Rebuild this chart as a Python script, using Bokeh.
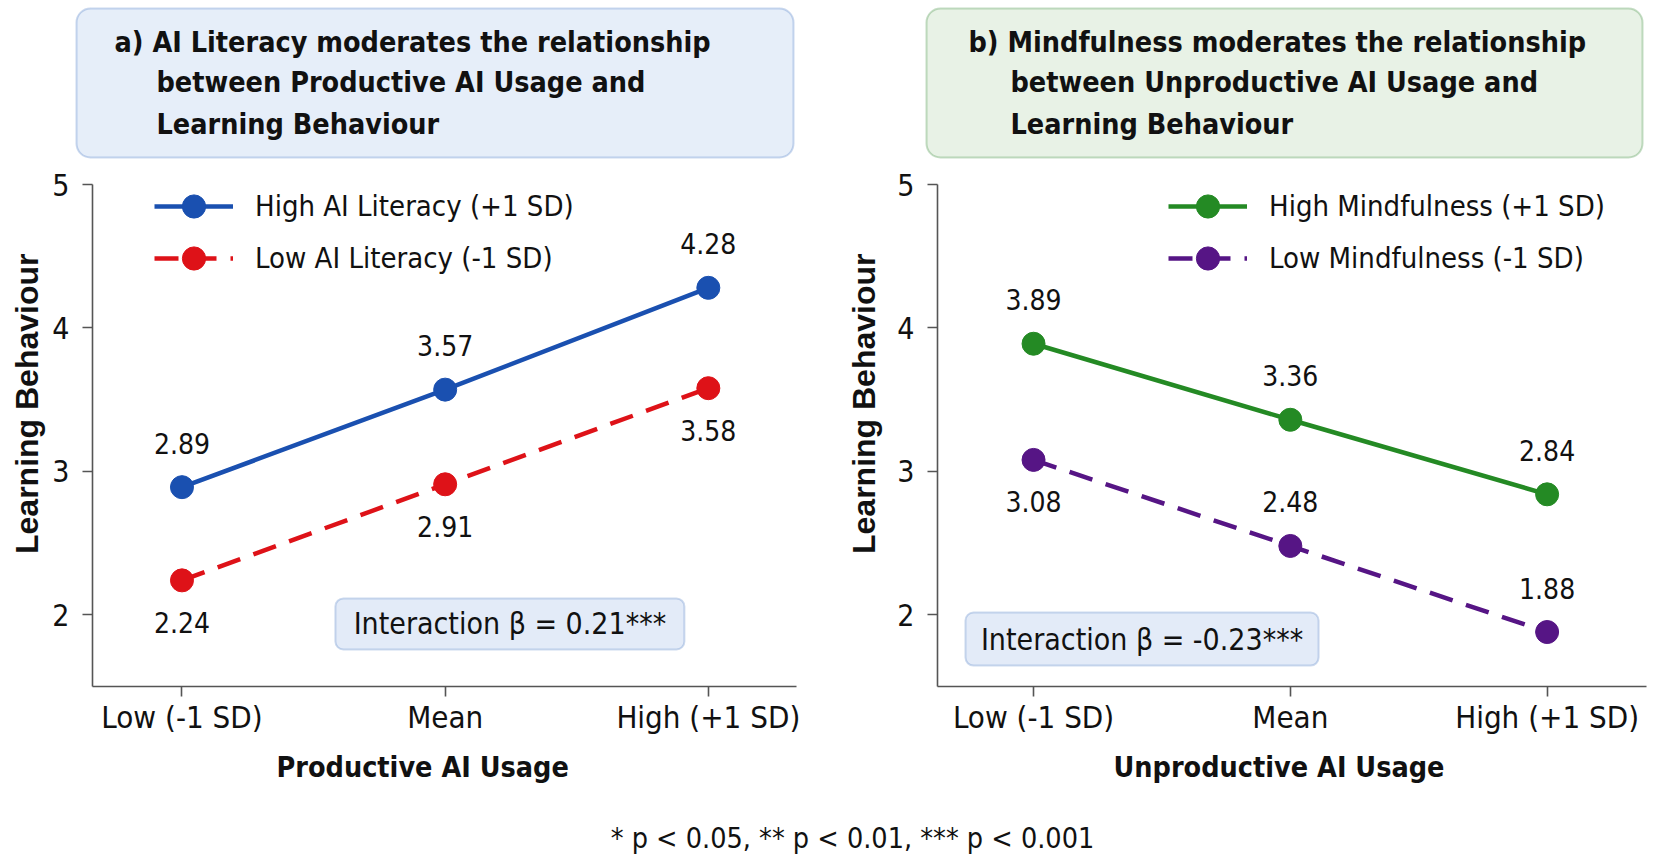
from bokeh.plotting import figure
from bokeh.models import (ColumnDataSource, Range1d, FixedTicker, Legend, LegendItem,
                          BoxAnnotation, Label, Title)
from bokeh.layouts import column, row
from bokeh.embed import file_html
from bokeh.resources import INLINE
from bokeh.core.properties import value

# ---- data -------------------------------------------------------------
levels = ["Low (-1 SD)", "Mean", "High (+1 SD)"]
level_pos = [0, 1, 2]

# a) AI literacy moderating productive AI usage -> learning behaviour
high_literacy = [2.89, 3.57, 4.28]
low_literacy = [2.24, 2.91, 3.58]
beta_a = 0.21

# b) mindfulness moderating unproductive AI usage -> learning behaviour
high_mindfulness = [3.89, 3.36, 2.84]
low_mindfulness = [3.08, 2.48, 1.88]
beta_b = -0.23

y_ticks = [2, 3, 4, 5]

titles_a = ["a) AI Literacy moderates the relationship",
            "between Productive AI Usage and",
            "Learning Behaviour"]
titles_b = ["b) Mindfulness moderates the relationship",
            "between Unproductive AI Usage and",
            "Learning Behaviour"]
footnote = "* p < 0.05, ** p < 0.01, *** p < 0.001"

# ---- styling ----------------------------------------------------------
NARROW = "'DejaVu Sans Condensed', Roboto, sans-serif"
WIDE = "Liberation Sans"
AXIS_GREY = "#555555"
INK = "#111111"

Y_LO, Y_HI = 1.5, 5.098


def make_panel(width, b_left, b_right, x_rng, hi, lo, hi_name, lo_name,
               hi_col, lo_col, lo_sides, xlabel, beta, box, legend_x,
               xlabel_offset, ylabel_standoff):
    p = figure(width=width, height=640, x_range=Range1d(*x_rng),
               y_range=Range1d(Y_LO, Y_HI), output_backend="svg",
               toolbar_location=None, min_border_left=b_left,
               min_border_right=b_right, min_border_top=10,
               min_border_bottom=114, background_fill_color="white",
               border_fill_color="white")
    p.outline_line_color = None
    p.grid.visible = False

    p.xaxis.ticker = FixedTicker(ticks=level_pos)
    p.xaxis.major_label_overrides = {k: v for k, v in zip(level_pos, levels)}
    p.yaxis.ticker = FixedTicker(ticks=y_ticks)
    p.yaxis.bounds = (Y_LO, 5.0)
    for ax in p.axis:
        ax.axis_line_color = AXIS_GREY
        ax.axis_line_width = 1.6
        ax.major_tick_line_color = AXIS_GREY
        ax.major_tick_line_width = 1.6
        ax.major_tick_out = 10
        ax.major_tick_in = 0
        ax.minor_tick_line_color = None
        ax.major_label_text_font = NARROW
        ax.major_label_text_color = INK
    p.xaxis.major_label_text_font_size = "31px"
    p.xaxis.major_label_standoff = 2
    p.yaxis.major_label_text_font_size = "30px"
    p.yaxis.major_label_standoff = 13

    # interaction annotation box
    bl, br, bt, bb = box
    p.add_layout(BoxAnnotation(left=bl, right=br, top=bt, bottom=bb,
                               fill_color="#e3ebf8", fill_alpha=1.0,
                               line_color="#5b84c6", line_width=2,
                               border_radius=8))
    sign = "-" if beta < 0 else ""
    p.add_layout(Label(x=(bl + br) / 2, y=(bt + bb) / 2,
                       text=f"Interaction \u03b2 = {sign}{abs(beta):.2f}***",
                       text_align="center", text_baseline="middle",
                       text_font=NARROW, text_font_size="30px",
                       text_color=INK))

    # series
    hi_src = ColumnDataSource(dict(x=level_pos, y=hi,
                                   lab=[f"{v:.2f}" for v in hi],
                                   off=[-44] * len(hi)))
    lo_src = ColumnDataSource(dict(x=level_pos, y=lo,
                                   lab=[f"{v:.2f}" for v in lo],
                                   off=[42 if s == "below" else -44 for s in lo_sides]))

    r1 = p.line("x", "y", source=hi_src, line_color=hi_col, line_width=4.5)
    r2 = p.scatter("x", "y", source=hi_src, size=23, fill_color=hi_col,
                   line_color=hi_col)
    r3 = p.line("x", "y", source=lo_src, line_color=lo_col, line_width=4.5,
                line_dash="24 14")
    r4 = p.scatter("x", "y", source=lo_src, size=23, fill_color=lo_col,
                   line_color=lo_col)

    for src in (hi_src, lo_src):
        p.text("x", "y", text="lab", y_offset="off", source=src,
               text_align="center", text_baseline="middle",
               text_font=value(NARROW), text_font_size="28px",
               text_color=INK)

    # one legend per series so each row sits at its own height
    for item, bottom in ((LegendItem(label=hi_name, renderers=[r1, r2]), 451),
                         (LegendItem(label=lo_name, renderers=[r3, r4]), 399)):
        p.add_layout(Legend(items=[item], location=(legend_x, bottom),
                            glyph_width=79, glyph_height=58, label_height=40,
                            label_standoff=22, spacing=0, padding=0, margin=0,
                            border_line_color=None, background_fill_alpha=0,
                            label_text_font=NARROW, label_text_font_size="29px",
                            label_text_baseline="middle", label_text_color=INK))

    # axis titles
    p.add_layout(Title(text="Learning Behaviour", align="right", offset=83,
                       standoff=ylabel_standoff,
                       text_font=WIDE, text_font_style="bold",
                       text_font_size="32px", text_color=INK), "left")
    p.add_layout(Title(text=xlabel, align="left", offset=xlabel_offset,
                       vertical_align="top", standoff=26,
                       text_font=NARROW, text_font_style="bold",
                       text_font_size="28.5px", text_color=INK), "below")
    return p


pa = make_panel(830, 92, 34, (-0.340, 2.335), high_literacy, low_literacy,
                "High AI Literacy (+1 SD)", "Low AI Literacy (-1 SD)",
                "#1a50b0", "#de1218", ["below", "below", "below"],
                "Productive AI Usage", beta_a,
                (0.583, 1.909, 2.114, 1.758), 62, 184, 10)

pb = make_panel(824, 107, 8, (-0.374, 2.387), high_mindfulness, low_mindfulness,
                "High Mindfulness (+1 SD)", "Low Mindfulness (-1 SD)",
                "#248a24", "#561585", ["below", "above", "above"],
                "Unproductive AI Usage", beta_b,
                (-0.265, 1.110, 2.016, 1.646), 231, 176, 25)

# ---- header with the two panel titles --------------------------------
hdr = figure(width=1654, height=160, x_range=Range1d(0, 1654),
             y_range=Range1d(160, 0), x_axis_type=None, y_axis_type=None,
             output_backend="svg", toolbar_location=None, min_border=0)
hdr.grid.visible = False
hdr.outline_line_color = None

for (left, right, fill, edge, lines, x1, x2) in [
        (76, 793, "#e6eef9", "#4f7fc8", titles_a, 114, 156),
        (926, 1642, "#e8f2e6", "#3f8f3f", titles_b, 968, 1010)]:
    hdr.add_layout(BoxAnnotation(left=left, right=right, top=8, bottom=157,
                                 fill_color=fill, fill_alpha=1.0,
                                 line_color=edge, line_width=2,
                                 border_radius=14))
    for i, (txt, yy) in enumerate(zip(lines, [42, 82, 124])):
        hdr.add_layout(Label(x=x1 if i == 0 else x2, y=yy, text=txt,
                             text_align="left", text_baseline="middle",
                             text_font=NARROW, text_font_style="bold",
                             text_font_size="28.5px", text_color=INK))

# ---- footer with significance note ------------------------------------
ftr = figure(width=1654, height=65, x_range=Range1d(0, 1654),
             y_range=Range1d(865, 800), x_axis_type=None, y_axis_type=None,
             output_backend="svg", toolbar_location=None, min_border=0)
ftr.grid.visible = False
ftr.outline_line_color = None
ftr.add_layout(Label(x=852, y=838, text=footnote, text_align="center",
                     text_baseline="middle", text_font=NARROW,
                     text_font_size="28.5px", text_color=INK))

layout = column(hdr, row(pa, pb), ftr)
open("out.html", "w").write(file_html(layout, INLINE))
